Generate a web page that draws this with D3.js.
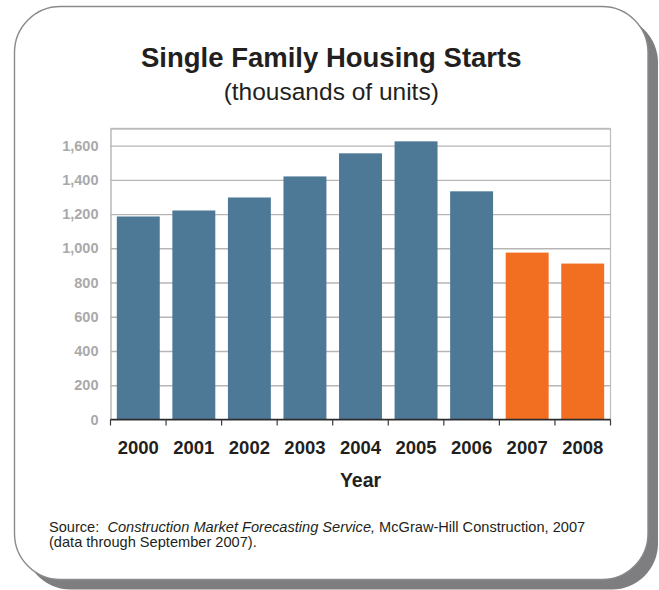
<!DOCTYPE html>
<html>
<head>
<meta charset="utf-8">
<script src="https://cdn.jsdelivr.net/npm/d3@7"></script>
<style>
  html, body { margin: 0; padding: 0; background: #ffffff; }
  svg { display: block; font-family: "Liberation Sans", Arial, Helvetica, sans-serif; }
  .note { white-space: pre; }
</style>
</head>
<body>
<svg id="chart" width="659" height="590"></svg>
<script>
// Single family housing starts, thousands of units
const years = ["2000", "2001", "2002", "2003", "2004", "2005", "2006", "2007", "2008"];
const starts = [1186, 1221, 1297, 1420, 1555, 1625, 1333, 975, 911];
const forecastYears = ["2007", "2008"];
const yTicks = [0, 200, 400, 600, 800, 1000, 1200, 1400, 1600];

const svg = d3.select("#chart");

// Card with offset drop shadow
const card = { x: 14.5, y: 6.5, w: 633.5, h: 573, r: 46 };
svg.append("rect")
  .attr("x", card.x + 10).attr("y", card.y + 10)
  .attr("width", card.w).attr("height", card.h)
  .attr("rx", card.r).attr("ry", card.r)
  .attr("fill", "#7e7e81");
svg.append("rect")
  .attr("x", card.x).attr("y", card.y)
  .attr("width", card.w).attr("height", card.h)
  .attr("rx", card.r).attr("ry", card.r)
  .attr("fill", "#ffffff")
  .attr("stroke", "#8a8a8c")
  .attr("stroke-width", 1.4);

// Titles
const cx = card.x + card.w / 2;
svg.append("text")
  .attr("x", cx).attr("y", 66.5)
  .attr("text-anchor", "middle")
  .attr("font-size", 27.5).attr("font-weight", "bold")
  .attr("fill", "#231f20")
  .text("Single Family Housing Starts");
svg.append("text")
  .attr("x", cx).attr("y", 100)
  .attr("text-anchor", "middle")
  .attr("font-size", 24.5)
  .attr("fill", "#231f20")
  .text("(thousands of units)");

// Plot area bounds
const plotLeft = 110.5, plotRight = 610.5, plotTop = 128.5, plotBottom = 419.5;

const x = d3.scaleBand()
  .domain(years)
  .range([plotLeft, plotRight])
  .paddingInner(0.227)
  .paddingOuter(0.1135);

const y = d3.scaleLinear()
  .domain([0, 1700])
  .range([plotBottom, plotTop]);

// Frame: top and right borders
svg.append("line")
  .attr("x1", plotLeft).attr("x2", plotRight)
  .attr("y1", plotTop).attr("y2", plotTop)
  .attr("stroke", "#cfcfcf").attr("stroke-width", 1.5);
svg.append("line")
  .attr("x1", plotRight).attr("x2", plotRight)
  .attr("y1", plotTop).attr("y2", plotBottom)
  .attr("stroke", "#bdbdbd").attr("stroke-width", 1.2);

// Y axis with gridlines
const yAxis = d3.axisLeft(y)
  .tickValues(yTicks)
  .tickSize(-(plotRight - plotLeft))
  .tickPadding(12)
  .tickFormat(d3.format(","));
const gy = svg.append("g")
  .attr("transform", `translate(${plotLeft},0)`)
  .call(yAxis);
gy.select(".domain").attr("stroke", "#a8a8a8").attr("stroke-width", 1.2);
gy.selectAll(".tick line")
  .attr("stroke", "#b6b6b6").attr("stroke-width", 1.4);
gy.selectAll(".tick text")
  .attr("font-size", 14.5).attr("font-weight", "bold")
  .attr("fill", "#a9a9ab")
  .attr("font-family", "Liberation Sans, Arial, sans-serif");

// Bars
svg.append("g")
  .selectAll("rect")
  .data(years.map((yr, i) => ({ year: yr, value: starts[i] })))
  .join("rect")
  .attr("x", d => x(d.year))
  .attr("y", d => y(d.value))
  .attr("width", x.bandwidth())
  .attr("height", d => y(0) - y(d.value))
  .attr("fill", d => forecastYears.includes(d.year) ? "#f26f21" : "#4d7896");

// X axis: baseline, boundary ticks and year labels
const halfGap = x.step() * x.paddingInner() / 2;
const boundaries = years.map(yr => x(yr) - halfGap).concat([plotRight]);
svg.append("line")
  .attr("x1", plotLeft).attr("x2", plotRight)
  .attr("y1", plotBottom).attr("y2", plotBottom)
  .attr("stroke", "#2b2b2b").attr("stroke-width", 1.5);
svg.append("g")
  .selectAll("line")
  .data(boundaries)
  .join("line")
  .attr("x1", d => d).attr("x2", d => d)
  .attr("y1", plotBottom).attr("y2", plotBottom + 6)
  .attr("stroke", "#3a3a3a").attr("stroke-width", 1.2);

const xAxis = d3.axisBottom(x).tickSize(0).tickPadding(0);
const gx = svg.append("g")
  .attr("transform", `translate(0,${plotBottom})`)
  .call(xAxis);
gx.select(".domain").remove();
gx.selectAll(".tick text")
  .attr("y", 34).attr("dy", 0)
  .attr("font-size", 18.5).attr("font-weight", "bold")
  .attr("fill", "#231f20")
  .attr("font-family", "Liberation Sans, Arial, sans-serif");

// Axis title
svg.append("text")
  .attr("x", (plotLeft + plotRight) / 2).attr("y", 487)
  .attr("text-anchor", "middle")
  .attr("font-size", 19.5).attr("font-weight", "bold")
  .attr("fill", "#231f20")
  .text("Year");

// Source note
const note = svg.append("text")
  .attr("class", "note")
  .attr("x", 49).attr("y", 532)
  .attr("font-size", 14.6)
  .attr("fill", "#231f20");
note.append("tspan").text("Source:  ");
note.append("tspan").attr("font-style", "italic").text("Construction Market Forecasting Service,");
note.append("tspan").text(" McGraw-Hill Construction, 2007");
svg.append("text")
  .attr("class", "note")
  .attr("x", 49).attr("y", 547)
  .attr("font-size", 14.6)
  .attr("fill", "#231f20")
  .text("(data through September 2007).");
</script>
</body>
</html>
